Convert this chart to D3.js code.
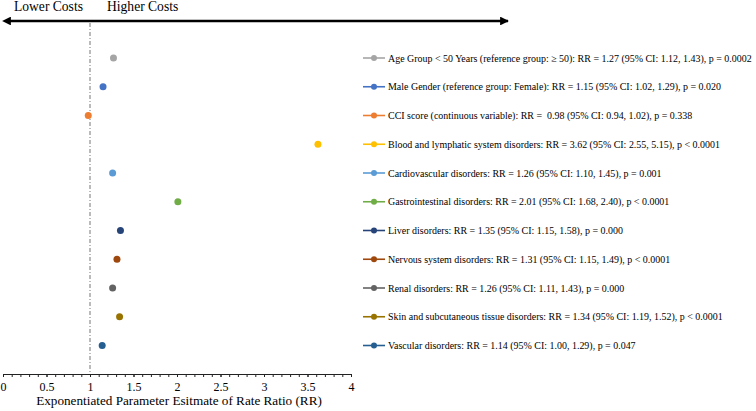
<!DOCTYPE html>
<html><head><meta charset="utf-8">
<script src="https://cdn.jsdelivr.net/npm/d3@7"></script>
<style>body{margin:0;background:#fff}svg{display:block}</style>
</head><body><svg id="c" width="756" height="411"></svg>
<script>
const categories = [
 "Age Group < 50 Years (reference group: \u2265 50): RR = 1.27 (95% CI: 1.12, 1.43), p = 0.0002",
 "Male Gender (reference group: Female): RR = 1.15 (95% CI: 1.02, 1.29), p = 0.020",
 "CCI score (continuous variable): RR =  0.98 (95% CI: 0.94, 1.02), p = 0.338",
 "Blood and lymphatic system disorders: RR = 3.62 (95% CI: 2.55, 5.15), p < 0.0001",
 "Cardiovascular disorders: RR = 1.26 (95% CI: 1.10, 1.45), p = 0.001",
 "Gastrointestinal disorders: RR = 2.01 (95% CI: 1.68, 2.40), p < 0.0001",
 "Liver disorders: RR = 1.35 (95% CI: 1.15, 1.58), p = 0.000",
 "Nervous system disorders: RR = 1.31 (95% CI: 1.15, 1.49), p < 0.0001",
 "Renal disorders: RR = 1.26 (95% CI: 1.11, 1.43), p = 0.000",
 "Skin and subcutaneous tissue disorders: RR = 1.34 (95% CI: 1.19, 1.52), p < 0.0001",
 "Vascular disorders: RR = 1.14 (95% CI: 1.00, 1.29), p = 0.047"
];
const rrValues = [1.27, 1.15, 0.98, 3.62, 1.26, 2.01, 1.35, 1.31, 1.26, 1.34, 1.14];
const colors = ["#A5A5A5","#4472C4","#ED7D31","#FFC000","#5B9BD5","#70AD47","#264478","#9E480E","#636363","#997300","#255E91"];
const tickValues = [0,0.5,1,1.5,2,2.5,3,3.5,4];
const minorTicks = d3.range(0, 41).map(i => i/10);
const axisTitle = "Exponentiated Parameter Esitmate of Rate Ratio (RR)";

const FF = "Liberation Serif, Times New Roman, Tinos, DejaVu Serif, serif";
const svg = d3.select("#c").attr("font-family", FF);
const x = d3.scaleLinear().domain([0,4]).range([3,351]);
const y = d3.scalePoint().domain(d3.range(categories.length)).range([58,345.5]);
const axisY = 374;

function fit(sel, size, target){
  sel.attr("font-size", size);
  const w = sel.node().getComputedTextLength();
  const s = Math.min(size*1.15, size*target/w);
  sel.attr("font-size", s);
  return s;
}

svg.append("g").attr("transform",`translate(0,${axisY})`)
  .call(d3.axisBottom(x).tickValues(minorTicks).tickSize(3).tickFormat(""))
  .call(g=>g.select(".domain").remove())
  .selectAll("line").attr("stroke","#222");
const ax = svg.append("g").attr("transform",`translate(0,${axisY})`)
  .call(d3.axisBottom(x).tickValues(tickValues).tickSize(3).tickSizeOuter(0).tickFormat(d3.format("")));
ax.attr("font-family", FF).attr("font-size", 12);
ax.select(".domain").attr("stroke","#222");
ax.selectAll("line").attr("stroke","#222");
ax.selectAll("text").attr("y",8).attr("fill","#000");

const title = svg.append("text").attr("x",179).attr("y",405).attr("text-anchor","middle").text(axisTitle);
fit(title, 13, 286);

svg.append("line").attr("x1",x(1)).attr("x2",x(1)).attr("y1",23).attr("y2",axisY)
  .attr("stroke","#777").attr("stroke-width",1).attr("stroke-dasharray","4,2,1,2");

const defs = svg.append("defs");
["l","r"].forEach(k=>{
  defs.append("marker").attr("id","ar"+k).attr("viewBox","0 0 10 10").attr("refX",k==="r"?9:1).attr("refY",5)
   .attr("markerWidth",4.5).attr("markerHeight",3.5).attr("markerUnits","strokeWidth").attr("orient","auto-start-reverse")
   .append("path").attr("d","M0,0 L10,5 L0,10 z").attr("fill","#000");
});
svg.append("line").attr("x1",10).attr("x2",508).attr("y1",21).attr("y2",21)
  .attr("stroke","#000").attr("stroke-width",2.5)
  .attr("marker-start","url(#arl)").attr("marker-end","url(#arr)");
const lo = svg.append("text").attr("x",14).attr("y",11).text("Lower Costs");
const topSize = fit(lo, 14, 69);
svg.append("text").attr("x",107).attr("y",11).attr("font-size",topSize).text("Higher Costs");

svg.append("g").selectAll("circle").data(rrValues).join("circle")
  .attr("cx",d=>x(d)).attr("cy",(d,i)=>y(i)).attr("r",3.5).attr("fill",(d,i)=>colors[i]);

const lg = svg.append("g").selectAll("g").data(categories).join("g")
  .attr("transform",(d,i)=>`translate(0,${y(i)})`);
lg.append("line").attr("x1",363).attr("x2",385).attr("stroke",(d,i)=>colors[i]).attr("stroke-width",1.6);
lg.append("circle").attr("cx",374).attr("r",3).attr("fill",(d,i)=>colors[i]);
const lt = lg.append("text").attr("x",388).attr("dy","0.35em").attr("xml:space","preserve")
  .style("white-space","pre").text(d=>d);
const legSize = fit(d3.select(lt.nodes()[0]), 10, 364);
lt.attr("font-size", legSize);
</script></body></html>
